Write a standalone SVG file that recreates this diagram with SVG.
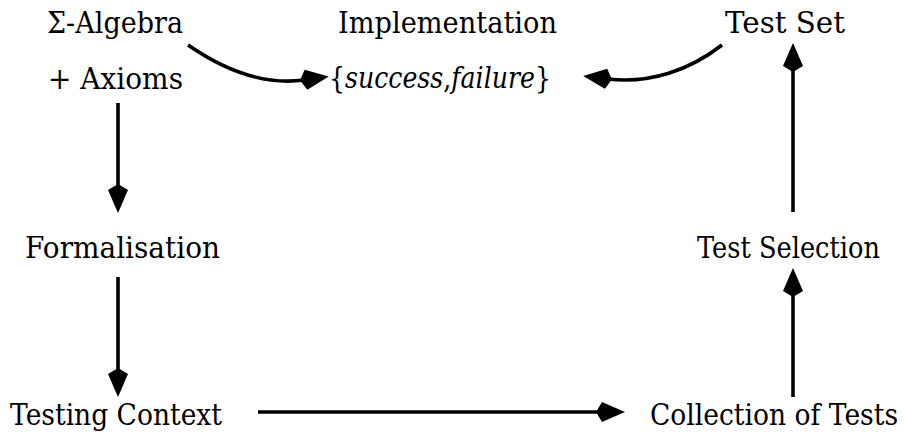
<svg xmlns="http://www.w3.org/2000/svg" width="904" height="433" viewBox="0 0 904 433">
  <style>
    text { font-family: "DejaVu Serif", "Noto Serif", serif; font-size: 30px; fill: #000; }
    .it { font-style: italic; }
    .edge { fill: none; stroke: #000; stroke-width: 3.6; stroke-linecap: butt; }
  </style>
  <defs>
    <!-- kite-shaped head; tip sits 25px beyond the end of the line -->
    <marker id="head" markerUnits="userSpaceOnUse" markerWidth="40" markerHeight="30"
            viewBox="-10 -15 40 30" refX="0" refY="0" orient="auto" style="overflow:visible">
      <path d="M25,0 L2,-10 L-4,0 L2,10 Z" fill="#000"/>
    </marker>
  </defs>

  <rect width="904" height="433" fill="#fff"/>

  <g id="spec">
    <text x="47" y="33" textLength="136" lengthAdjust="spacingAndGlyphs">Σ-Algebra</text>
    <text x="48" y="89" textLength="135" lengthAdjust="spacingAndGlyphs">+ Axioms</text>
  </g>

  <g id="implementation">
    <text x="338" y="33" textLength="219" lengthAdjust="spacingAndGlyphs">Implementation</text>
    <text x="329" y="88" textLength="222" lengthAdjust="spacingAndGlyphs">{<tspan class="it">success</tspan>,<tspan class="it">failure</tspan>}</text>
  </g>

  <g id="test-set">
    <text x="725" y="33" textLength="120" lengthAdjust="spacingAndGlyphs">Test Set</text>
  </g>

  <g id="formalisation">
    <text x="25" y="258" textLength="195" lengthAdjust="spacingAndGlyphs">Formalisation</text>
  </g>

  <g id="test-selection">
    <text x="697" y="258" textLength="183" lengthAdjust="spacingAndGlyphs">Test Selection</text>
  </g>

  <g id="testing-context">
    <text x="10" y="425" textLength="212" lengthAdjust="spacingAndGlyphs">Testing Context</text>
  </g>

  <g id="collection">
    <text x="650" y="425" textLength="248" lengthAdjust="spacingAndGlyphs">Collection of Tests</text>
  </g>

  <g id="connectors">
    <path class="edge" d="M188,45 C230,74 268,85 304,80" marker-end="url(#head)"/>
    <path class="edge" d="M722,45 C690,70 650,84 608,79" marker-end="url(#head)"/>
    <path class="edge" d="M118,103 L118,188" marker-end="url(#head)"/>
    <path class="edge" d="M118,277 L118,372" marker-end="url(#head)"/>
    <path class="edge" d="M258,412 L600,412" marker-end="url(#head)"/>
    <path class="edge" d="M793,397 L793,293" marker-end="url(#head)"/>
    <path class="edge" d="M793,212 L793,68" marker-end="url(#head)"/>
  </g>
</svg>
